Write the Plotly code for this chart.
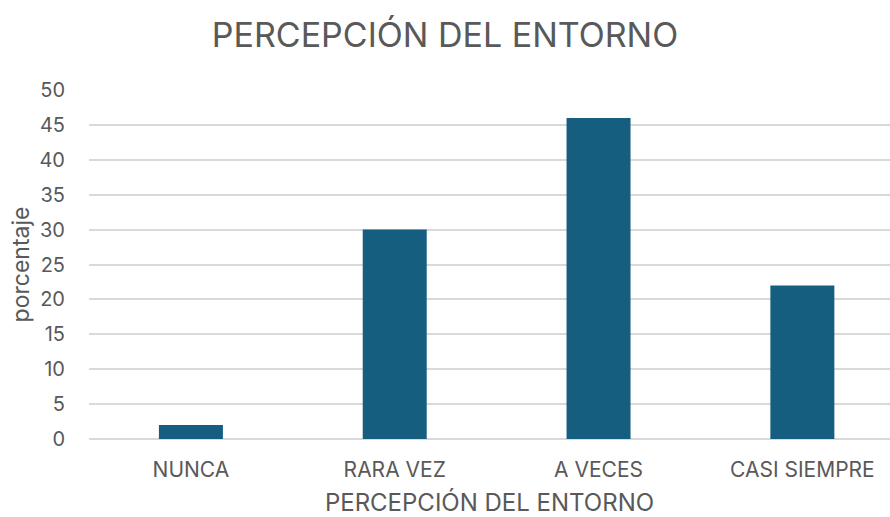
import plotly.graph_objects as go

categories = ["NUNCA", "RARA VEZ", "A VECES", "CASI SIEMPRE"]
values = [2, 30, 46, 22]
y_ticks = list(range(0, 51, 5))

FONT = "Inter"
GREY = "#595959"

fig = go.Figure(go.Bar(
    x=categories, y=values, marker_color="#165E80",
    width=0.314, marker_line_width=0,
))

fig.update_layout(
    width=890, height=517,
    margin=dict(l=89, r=0, t=90, b=78, autoexpand=False),
    paper_bgcolor="white", plot_bgcolor="white",
    font=dict(family=FONT, color=GREY),
    title=dict(text="PERCEPCIÓN DEL ENTORNO", x=0.5, xanchor="center",
               y=1 - 35 / 517, yanchor="middle",
               font=dict(size=34, color=GREY, family=FONT)),
    showlegend=False,
)
fig.update_xaxes(
    range=[-0.5, 3.43], showgrid=False, showline=False, ticks="",
    tickfont=dict(size=21, color=GREY), ticklabelstandoff=16,
    title=dict(text="PERCEPCIÓN DEL ENTORNO", font=dict(size=24, color=GREY), standoff=18),
)
fig.update_yaxes(
    range=[0, 50], tickvals=y_ticks, showgrid=True, gridcolor="#D9D9D9", gridwidth=1.5,
    zeroline=True, zerolinecolor="#D9D9D9", zerolinewidth=1.5,
    showline=False, ticks="", ticklabelstandoff=23,
    tickfont=dict(size=20, color=GREY),
    title=dict(text="porcentaje", font=dict(size=23, color=GREY), standoff=3),
)

fig.write_html("out.html", config={"displayModeBar": False},
               post_script="document.body.style.margin='0';")
